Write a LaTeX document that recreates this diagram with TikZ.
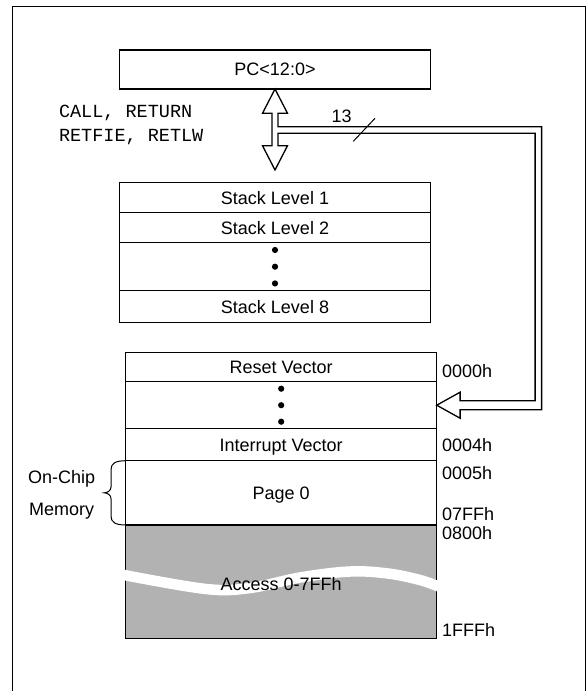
\documentclass[tikz,border=0pt]{standalone}
\usepackage{fontspec}
\setmainfont{Liberation Sans}
\setmonofont{Liberation Mono}
\usetikzlibrary{positioning, calc}
\definecolor{accessgray}{gray}{0.7}

\begin{document}
\begin{tikzpicture}[x=1pt,y=-1pt,line width=1.3pt,inner sep=0pt,outer sep=0pt,
  font=\fontsize{18}{22}\selectfont,
  row/.style={draw,minimum width=311pt,text height=12.9pt,text depth=0pt},
  lbl/.style={text height=12.9pt,text depth=0pt},
  addr/.style={lbl,anchor=west},
  instr/.style={anchor=west,text height=10.6pt,text depth=0pt,font=\ttfamily\fontsize{18.5}{22}\selectfont},
  dot/.style={circle,fill=black,minimum size=6.2pt}]%
\useasboundingbox (0,0) rectangle (588,691);
\draw [line width=1.5pt] (12.7,691) |- (585.3,6.7) -- (585.3,691);
% program counter and stack
\node [row,minimum height=39pt] (PC) at (275,69.5) {PC<12:0>};
\node [row,minimum height=30pt] [below=93.7pt of PC] (SL1) {Stack Level 1};
\node [row,minimum height=30pt] [below=0pt of SL1] (SL2) {Stack Level 2};
\node [row,minimum height=48pt] [below=0pt of SL2] (SD) {};
\node [row,minimum height=32pt] [below=0pt of SD] (SL8) {Stack Level 8};
\foreach \d [count=\i] in {-16.7,0,16.7}
  \node [dot] (SD\i) at ($(SD.center)+(0,\d)$) {};
% program memory
\node [row,minimum height=29pt] [below=30pt of SL8,xshift=6.2pt] (RV) {Reset Vector};
\node [row,minimum height=47pt] [below=0pt of RV] (MD) {};
\node [row,minimum height=32pt] [below=0pt of MD] (IV) {Interrupt Vector};
\node [row,minimum height=64.3pt] [below=0pt of IV] (P0) {Page 0};
\node [row,minimum height=113.7pt,fill=accessgray] [below=0pt of P0] (AC) {};
\foreach \d [count=\i] in {-16.5,0,16.5}
  \node [dot] (MD\i) at ($(MD.center)+(0,\d)$) {};
\draw [white,line width=10.5pt] plot [smooth,tension=0.6] coordinates
  {(124,575) (206,589) (250,588) (300,577.5) (350,571.5) (388,573.5) (420,580) (438.5,586.5)};
\node [lbl] (ACT) at ($(AC.center)+(0,2)$) {Access 0-7FFh};
% addresses
\node [addr] (A0000) at (442,371) {0000h};
\node [addr] (A0004) at (442,445) {0004h};
\node [addr] (A0005) at (442,473) {0005h};
\node [addr] (A07FF) at (442,513.7) {07FFh};
\node [addr] (A0800) at (442,532.7) {0800h};
\node [addr] (A1FFF) at (442,630.3) {1FFFh};
% on-chip brace
\draw [line width=1pt] (P0.north west) .. controls (115,460.7) and (111,463.7) .. (111,469.7)
  -- (111,487) .. controls (111,490.5) and (107.5,492.8) .. (104.3,492.8)
  .. controls (107.5,492.8) and (111,495.1) .. (111,498.6)
  -- (111,516) .. controls (111,522) and (115,525) .. (P0.south west);
\node [lbl] (OC) at (61.7,477) {On-Chip};
\node [lbl] (MM) at (61.7,509) {Memory};
% instructions
\node [instr] (INS1) at (59,112) {CALL, RETURN};
\node [instr] (INS2) at (59,136) {RETFIE, RETLW};
% hollow bus arrows
\draw (PC.south) -- ++(12.5,24.3) -- ++(-9.5,0) -- ++(0,13.4) -- ++(263.6,0)
  |- ($(MD.east)+(23.4,4.5)$) -- ++(0,8.5) -- (MD.east) -- ++(23.4,-13) -- ++(0,8.5)
  -- ++(75,0) |- ($(PC.south)+(3,44.3)$) -- ++(0,12.4) -- ++(9.5,0)
  -- ($(SL1.north)+(0,-12.7)$) -- ++(-12.5,-24.3) -- ++(9.5,0) -- ++(0,-32.4) -- ++(-9.5,0) -- cycle;
\draw [line width=1pt] (353.3,141.3) -- (375,118.3);
\node [lbl] (N13) at (341.7,116) {13};
\end{tikzpicture}
\end{document}
